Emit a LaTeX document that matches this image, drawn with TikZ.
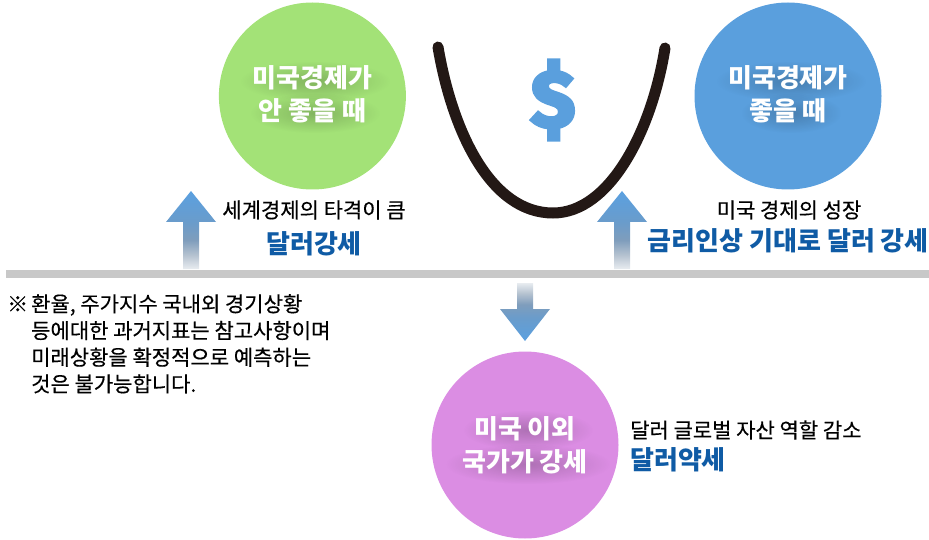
\documentclass[tikz,border=0pt]{standalone}
\usepackage{fontspec}
\setmainfont{Noto Sans CJK KR}
\newfontfamily\dollarfont[BoldFeatures={FakeBold=5}]{Fira Sans}
\newfontfamily\labelfont[FakeBold=0.35]{Noto Sans CJK KR}
\usetikzlibrary{positioning,fadings}
\definecolor{dollargreen}{HTML}{A3E277}
\definecolor{dollarblue}{HTML}{5A9FDD}
\definecolor{dollarpurple}{HTML}{DB8DE3}
\definecolor{labelblue}{HTML}{0F5BA5}
\definecolor{barline}{HTML}{C8C8C8}
\definecolor{curveink}{HTML}{231815}
\definecolor{fadea}{HTML}{E8ECF0}
\definecolor{fadeb}{HTML}{B5C2D0}
\definecolor{fadec}{HTML}{7F9DBC}
\definecolor{faded}{HTML}{6A9CCB}
\definecolor{fadee}{HTML}{5AA0E0}
\pgfdeclareverticalshading{arrowfade}{100bp}{color(0bp)=(fadea); color(25bp)=(fadea); color(34bp)=(fadeb); color(43.5bp)=(fadec); color(55bp)=(faded); color(75bp)=(fadee); color(100bp)=(fadee)}
\tikzfading[name=softband,inner color=transparent!0,outer color=transparent!100]
\begin{document}
\begin{tikzpicture}[
x=1pt,y=-1pt,
state/.style={
  circle,
  minimum size=187pt,
  inner sep=0pt
  },
statetext/.style={
  text=white,
  align=center,
  inner sep=0pt,
  font=\fontsize{26}{33}\selectfont\bfseries
  },
plainlabel/.style={
  inner sep=0pt,
  text=black,
  font=\fontsize{21}{24}\selectfont\labelfont
  },
bluelabel/.style={
  inner sep=0pt,
  text=labelblue,
  font=\fontsize{26}{30}\selectfont\bfseries
  },
blockarrow/.style={
  shading=arrowfade,
  draw=none
  }
]
\useasboundingbox (0,0) rectangle (929,540);

% base line
\fill[barline] (6,270) rectangle (929,278);

% circles
\node[state,fill=dollargreen] (weak) at (312.4,96) {};
\node[state,fill=dollarblue] (strong) at (788,96) {};
\node[state,fill=dollarpurple] (other) at (525,445) {};

% text shadows
\foreach \cx/\cy/\wd in {312/78/150,312/110/130,788/78/150,788/110/100,525/427/130,525/461/165}
  \fill[black,opacity=0.2,path fading=softband] (\cx+3-\wd/2,\cy-17) rectangle (\cx+3+\wd/2,\cy+23);

\node[statetext,yshift=2pt] (weaktext) at (weak) {미국경제가\\안 좋을 때};
\node[statetext,yshift=2pt] (strongtext) at (strong) {미국경제가\\좋을 때};
\node[statetext] (othertext) at (other) {미국 이외\\국가가 강세};

% smile curve
\draw[curveink,line width=11pt,line cap=round] (438,47) .. controls (452,130) and (490,213) .. (553,213) .. controls (610,213) and (652,130) .. (665,48);
\node[inner sep=0pt,text=dollarblue,font=\fontsize{80}{80}\selectfont\dollarfont\bfseries] (dollar) at (553,100) {\$};

% arrows
\foreach \ax in {191,622}
  \shade[blockarrow] (\ax,191) -- (\ax+25,222) -- (\ax+8,222) -- (\ax+8,269) -- (\ax-8,269) -- (\ax-8,222) -- (\ax-25,222) -- cycle;
\shade[blockarrow,shading angle=180] (525,341) -- (550,309) -- (533,309) -- (533,283) -- (517,283) -- (517,309) -- (500,309) -- cycle;

% labels
\node[plainlabel] (weakcause) at (314,210) {세계경제의 타격이 큼};
\node[bluelabel,below=12pt of weakcause] (weakresult) {달러강세};
\node[plainlabel] (strongcause) at (789,210) {미국 경제의 성장};
\node[bluelabel,anchor=east] (strongresult) at (929,241) {금리인상 기대로 달러 강세};
\node[plainlabel,anchor=west] (othercause) at (630,430) {달러 글로벌 자산 역할 감소};
\node[bluelabel,anchor=west] (otherresult) at (630,460) {달러약세};

% note
\node[inner sep=0pt,anchor=north west,align=left,font=\fontsize{21}{26.7}\selectfont\labelfont] (note) at (7,294)
{\makebox[24pt][l]{※}환율, 주가지수 국내외 경기상황\\
\hspace*{24pt}등에대한 과거지표는 참고사항이며\\
\hspace*{24pt}미래상황을 확정적으로 예측하는\\
\hspace*{24pt}것은 불가능합니다.};
\end{tikzpicture}
\end{document}
